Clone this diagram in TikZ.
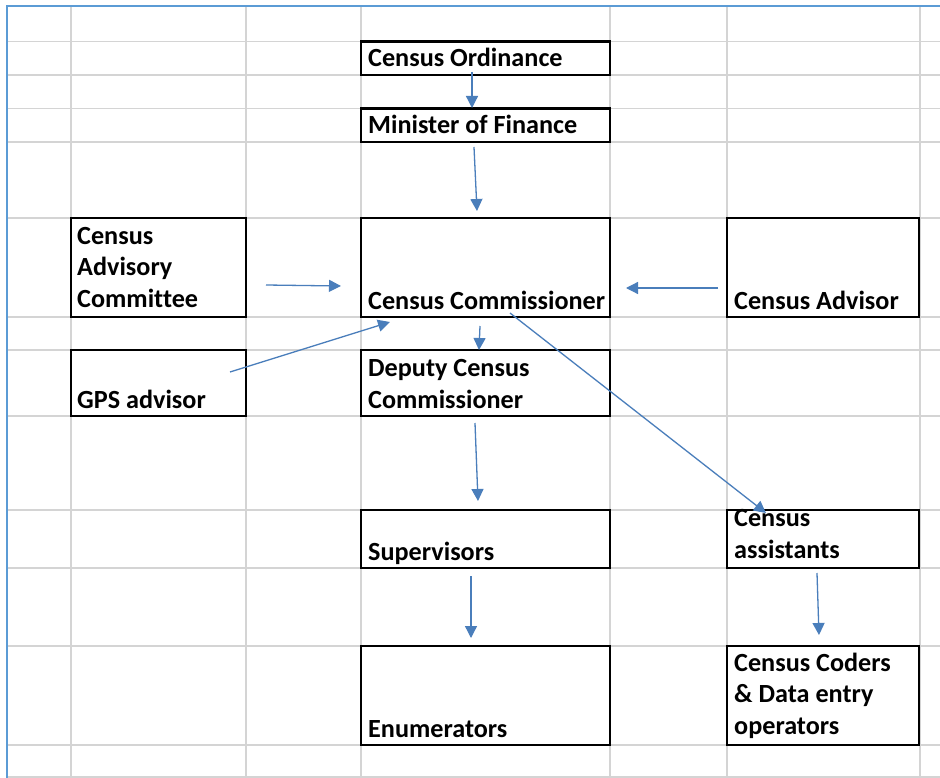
\documentclass[tikz,border=0pt]{standalone}
\usepackage{fontspec}
\setmainfont[Ligatures=NoCommon]{Carlito}
\usetikzlibrary{arrows.meta}
\definecolor{gridgray}{HTML}{D4D4D4}
\definecolor{framblue}{HTML}{5B9BD5}
\definecolor{arrblue}{HTML}{4A7EBB}
\tikzset{
  gridline/.style={draw=gridgray, line width=1.8pt},
  frameline/.style={draw=framblue, line width=2pt},
  box/.style={draw=black, line width=2.5pt, rectangle, inner sep=0pt, outer sep=0pt, anchor=north west},
  lbl/.style={anchor=base west, inner sep=0pt, align=left, font=\bfseries\fontsize{26.2}{31.5}\selectfont},
  conn/.style={draw=arrblue, line width=1.3pt, -{Triangle[width=12pt,length=12pt]}}
}
\begin{document}
\begin{tikzpicture}[x=1pt,y=-1pt]
\useasboundingbox (0,0) rectangle (940,778);
\fill[white] (0,0) rectangle (940,778);
% grid
\foreach \gx in {71,246,361,610,727,920} \draw[gridline] (\gx,6) -- (\gx,778);
\foreach \gy in {41.5,75,108.5,142,218,317,350,416,510,568,646,745,777} \draw[gridline] (7,\gy) -- (940,\gy);
\draw[frameline] (7,778) -- (7,6) -- (940,6);
% boxes
\node[box, minimum width=249pt, minimum height=33.5pt] (ord) at (361,41.5) {};
\node[box, minimum width=249pt, minimum height=33.5pt] (min) at (361,108.5) {};
\node[box, minimum width=249pt, minimum height=99pt] (com) at (361,218) {};
\node[box, minimum width=175pt, minimum height=99pt] (cac) at (71,218) {};
\node[box, minimum width=192pt, minimum height=99pt] (adv) at (727,218) {};
\node[box, minimum width=175pt, minimum height=66pt] (gps) at (71,350) {};
\node[box, minimum width=249pt, minimum height=66pt] (dep) at (361,350) {};
\node[box, minimum width=249pt, minimum height=58pt] (sup) at (361,510) {};
\node[box, minimum width=192pt, minimum height=58pt] (asst) at (727,510) {};
\node[box, minimum width=249pt, minimum height=99pt] (enum) at (361,646) {};
\node[box, minimum width=192pt, minimum height=99pt] (cod) at (727,646) {};
% labels (base anchor = baseline of the last line)
\node[lbl] (ordT) at (368,67) {Census Ordinance};
\node[lbl] (minT) at (368,134) {Minister of Finance};
\node[lbl] (comT) at (368,309) {Census Commissioner};
\node[lbl] (cacT) at (77,307) {Census\\Advisory\\Committee};
\node[lbl] (advT) at (734,309) {Census Advisor};
\node[lbl] (gpsT) at (77,408) {GPS advisor};
\node[lbl] (depT) at (368,408) {Deputy Census\\Commissioner};
\node[lbl] (supT) at (368,560) {Supervisors};
\node[lbl] (asstT) at (734,558) {Census\\assistants};
\node[lbl] (enumT) at (368,737) {Enumerators};
\node[lbl] (codT) at (734,734) {Census Coders\\\& Data entry\\operators};
% connector end points
\coordinate (a1s) at (472,72);   \coordinate (a1e) at (472,108);
\coordinate (a2s) at (474,147);  \coordinate (a2e) at (477,211);
\coordinate (a3s) at (266,285);  \coordinate (a3e) at (341,286);
\coordinate (a4s) at (718,288);  \coordinate (a4e) at (626,288);
\coordinate (a5s) at (230,372);  \coordinate (a5e) at (390,322);
\coordinate (a6s) at (480,326);  \coordinate (a6e) at (479,350);
\coordinate (a7s) at (510,313);  \coordinate (a7e) at (766,513);
\coordinate (a8s) at (475,423);  \coordinate (a8e) at (478,501);
\coordinate (a9s) at (471,576);  \coordinate (a9e) at (471,638);
\coordinate (a10s) at (817,573); \coordinate (a10e) at (819,635);
\foreach \s/\e in {a1s/a1e,a2s/a2e,a3s/a3e,a4s/a4e,a5s/a5e,a6s/a6e,a7s/a7e,a8s/a8e,a9s/a9e,a10s/a10e}
  \draw[conn] (\s) -- (\e);
\end{tikzpicture}
\end{document}
